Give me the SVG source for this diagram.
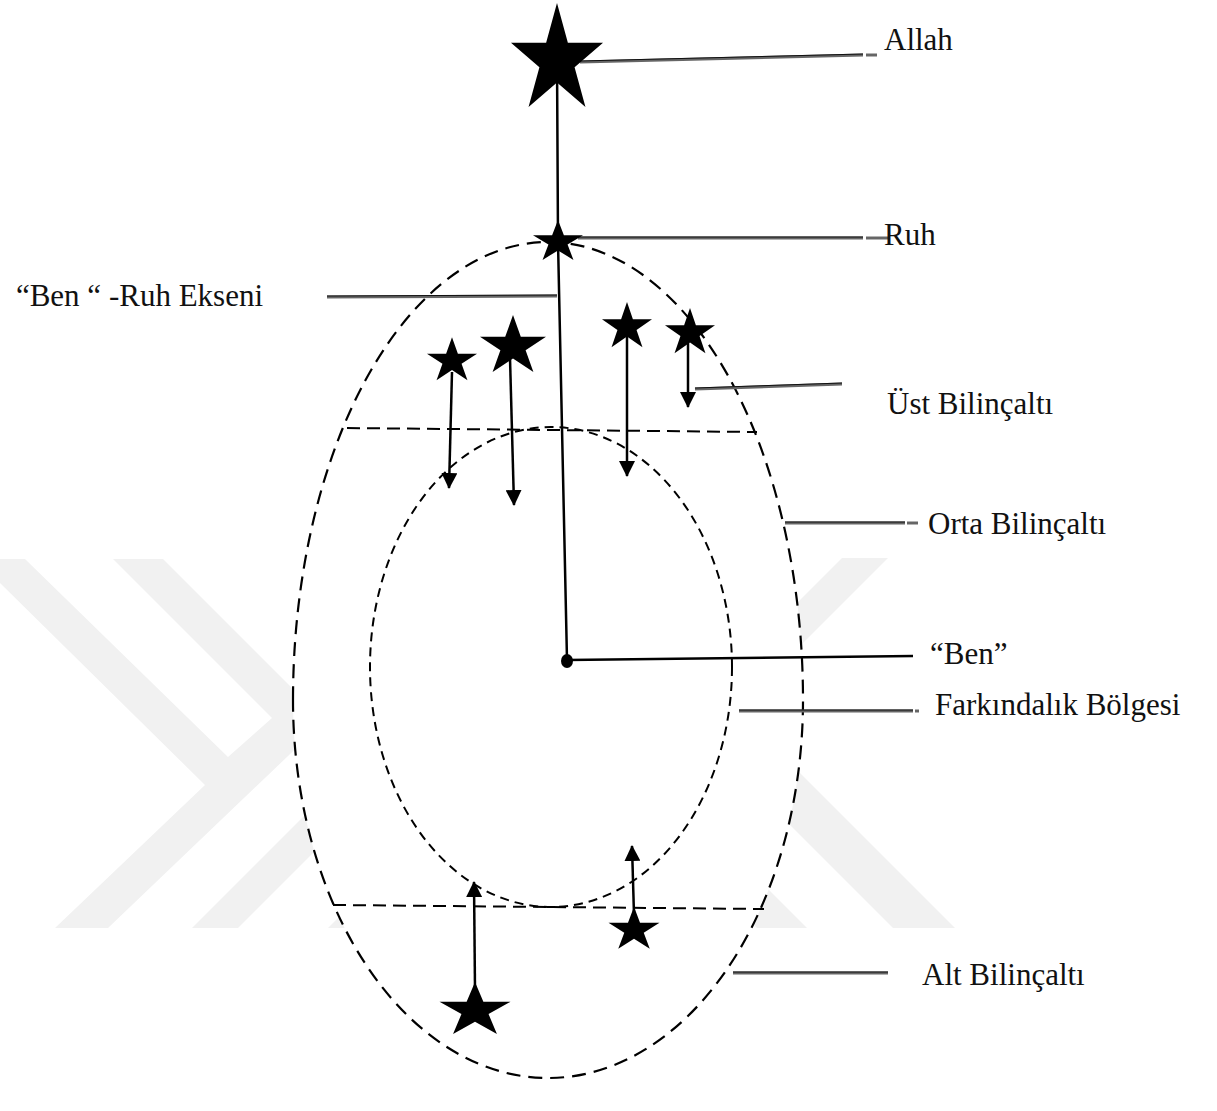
<svg xmlns="http://www.w3.org/2000/svg" xmlns:xlink="http://www.w3.org/1999/xlink" width="1217" height="1111" viewBox="0 0 1217 1111">
<style>
.lbl{font-family:"Liberation Serif","Times New Roman",serif;font-size:31px;fill:#111}
.wm{fill:#f1f1f1}
.dl{stroke:#666;stroke-width:3;fill:none}
.dlc{stroke:#111;stroke-width:1;fill:none}
.ax{stroke:#000;stroke-width:2.5;fill:none}
.arr{stroke:#000;stroke-width:2.5;fill:none;marker-end:url(#ah)}
.star{fill:#000}
</style>
<defs>
<path id="st" d="M0,-1 L0.2245,-0.309 L0.9511,-0.309 L0.3633,0.118 L0.5878,0.809 L0,0.382 L-0.5878,0.809 L-0.3633,0.118 L-0.9511,-0.309 L-0.2245,-0.309 Z"/>
<marker id="ah" viewBox="0 0 16 16" refX="15" refY="8" markerWidth="16" markerHeight="16" markerUnits="userSpaceOnUse" orient="auto">
<path d="M0,0 L16,8 L0,16 Z" fill="#000"/>
</marker>
</defs>
<rect width="1217" height="1111" fill="#fff"/>
<g id="watermark">
<polygon class="wm" points="0,559 25,559 228,757 272,718 113,559 163,559 340,736 340,790 310,735 108,928 55,928 205,785 0,583"/>
<polygon class="wm" points="192,928 330,790 370,796 238,928"/>
<polygon class="wm" points="328,928 400,856 440,856 370,928"/>
<polygon class="wm" points="842,558 888,558 780,666 760,640"/>
<polygon class="wm" points="893,928 955,928 785,758 770,805"/>
<polygon class="wm" points="807,928 700,821 650,821 757,928"/>
</g>
<g id="outer-region">
<path d="M293,700 A255,458 0 0 1 803,700 A255,378 0 0 1 293,700 Z" fill="#fff" stroke="#000" stroke-width="2.2" stroke-dasharray="14 8"/>
</g>
<g id="awareness-region">
<ellipse cx="551" cy="667" rx="181" ry="240" fill="none" stroke="#000" stroke-width="2" stroke-dasharray="9 6"/>
</g>
<g id="boundaries">
<line x1="347" y1="428" x2="757" y2="432" stroke="#000" stroke-width="2" stroke-dasharray="13 7"/>
<line x1="333" y1="905" x2="764" y2="909" stroke="#000" stroke-width="2" stroke-dasharray="13 7"/>
</g>
<g id="connectors">
<polyline class="ax" points="557,60 558,242 567,660"/>
<line class="ax" x1="567" y1="660" x2="913" y2="656" stroke-width="2"/>
<line class="arr" x1="452" y1="372" x2="449" y2="488"/>
<line class="arr" x1="510" y1="358" x2="514" y2="505"/>
<line class="arr" x1="627" y1="335" x2="627" y2="476"/>
<line class="arr" x1="688" y1="342" x2="688" y2="407"/>
<line class="arr" x1="475" y1="990" x2="474" y2="882"/>
<line class="arr" x1="634" y1="915" x2="632" y2="846"/>
<g id="label-leaders">
<line class="dl" x1="580" y1="62" x2="863" y2="55"/><line class="dlc" x1="580" y1="61" x2="863" y2="54"/>
<line class="dl" x1="866" y1="55" x2="877" y2="55"/>
<line class="dl" x1="578" y1="238" x2="863" y2="238"/><line class="dlc" x1="578" y1="237" x2="863" y2="237"/>
<line class="dl" x1="866" y1="238" x2="890" y2="238"/>
<line class="dl" x1="327" y1="297" x2="557" y2="296"/><line class="dlc" x1="327" y1="296" x2="557" y2="295"/>
<line class="dl" x1="695" y1="389" x2="842" y2="384"/><line class="dlc" x1="695" y1="388" x2="842" y2="383"/>
<line class="dl" x1="785" y1="523" x2="905" y2="523"/><line class="dlc" x1="785" y1="522" x2="905" y2="522"/>
<line class="dl" x1="907" y1="523" x2="918" y2="523"/>
<line class="dl" x1="739" y1="711" x2="913" y2="711"/><line class="dlc" x1="739" y1="710" x2="913" y2="710"/>
<line class="dl" x1="915" y1="711" x2="919" y2="711"/>
<line class="dl" x1="733" y1="973" x2="888" y2="973"/><line class="dlc" x1="733" y1="972" x2="888" y2="972"/>
</g>
</g>
<g id="allah"><use href="#st" class="star" transform="translate(557,60.5) scale(48.4,57.5)"/></g>
<g id="ruh"><use href="#st" class="star" transform="translate(558,242) scale(26.3,22.1)"/></g>
<g id="star-upper-1"><use href="#st" class="star" transform="translate(452,361) scale(26.3,23.8)"/></g>
<g id="star-upper-2"><use href="#st" class="star" transform="translate(513,346.5) scale(34.7,31.5)"/></g>
<g id="star-upper-3"><use href="#st" class="star" transform="translate(627,327) scale(26.3,24.9)"/></g>
<g id="star-upper-4"><use href="#st" class="star" transform="translate(690,333) scale(26.3,24.9)"/></g>
<g id="star-lower-1"><use href="#st" class="star" transform="translate(475,1010.7) scale(37.3,28.7)"/></g>
<g id="star-lower-2"><use href="#st" class="star" transform="translate(634,930) scale(26.8,23.2)"/></g>
<g id="ben"><ellipse cx="567" cy="661" rx="6" ry="7" fill="#000"/></g>
<g id="labels">
<text class="lbl" x="884" y="50">Allah</text>
<text class="lbl" x="884" y="245">Ruh</text>
<text class="lbl" x="263" y="306" text-anchor="end">“Ben “ -Ruh Ekseni</text>
<text class="lbl" x="887" y="414">Üst Bilinçaltı</text>
<text class="lbl" x="928" y="534">Orta Bilinçaltı</text>
<text class="lbl" x="930" y="664">“Ben”</text>
<text class="lbl" x="935" y="715">Farkındalık Bölgesi</text>
<text class="lbl" x="922" y="985">Alt Bilinçaltı</text>
</g>
</svg>
